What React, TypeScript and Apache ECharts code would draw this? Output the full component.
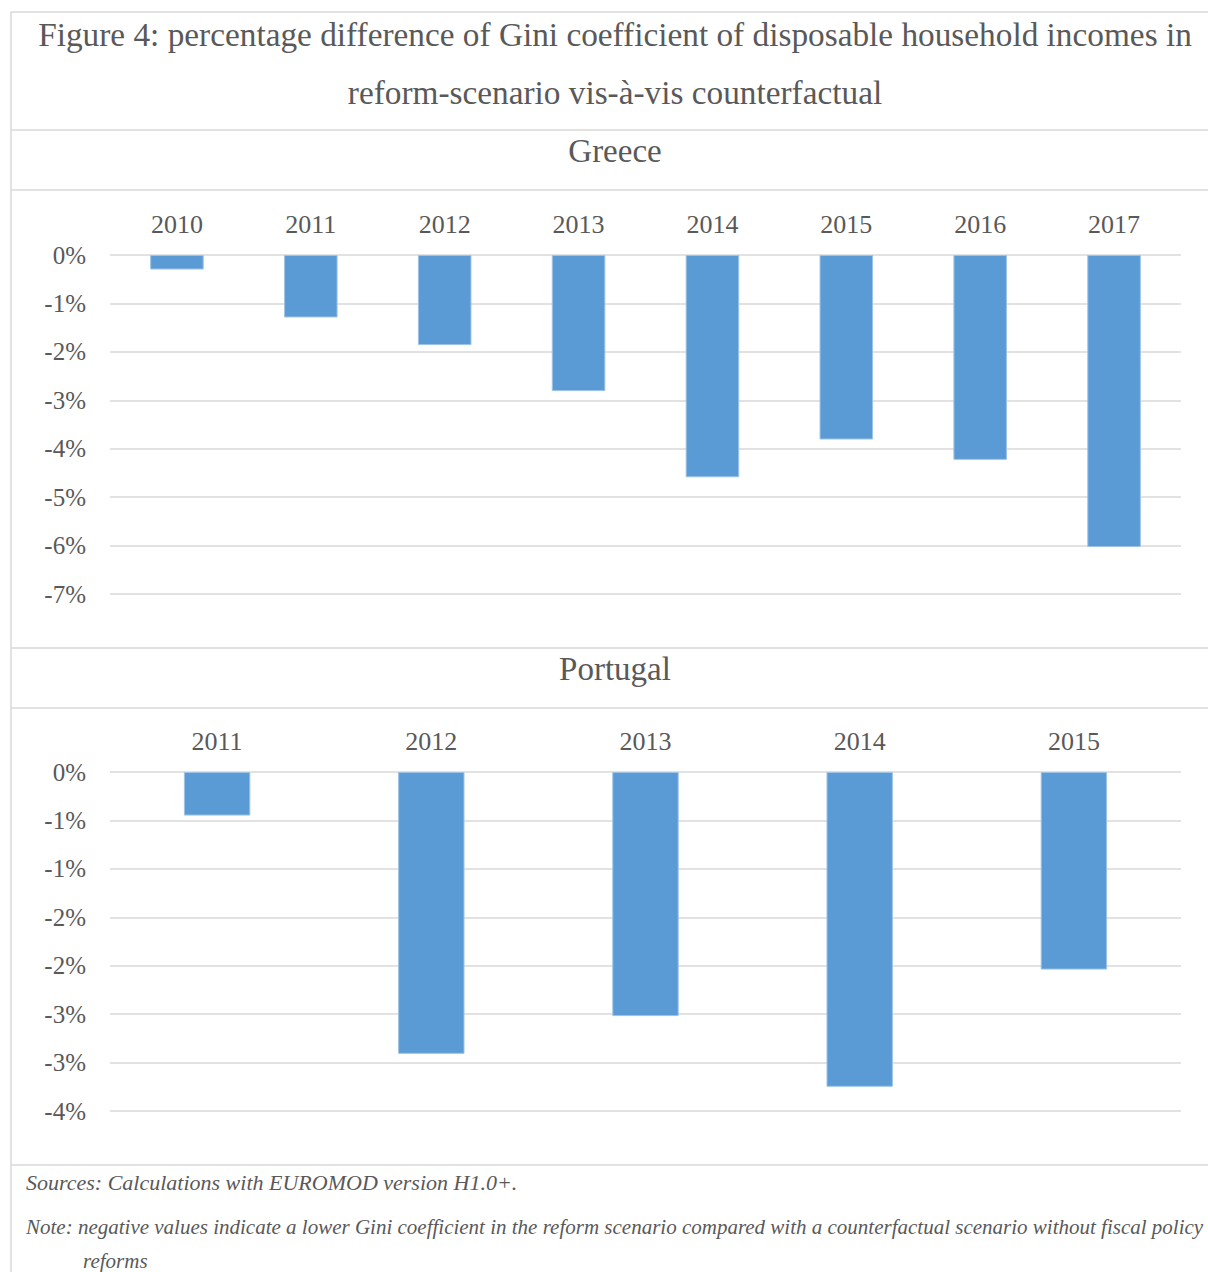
import React, { useEffect, useRef } from "react";
import * as echarts from "echarts";

const greeceYears = ["2010", "2011", "2012", "2013", "2014", "2015", "2016", "2017"];
const greeceValues = [-0.3, -1.29, -1.86, -2.81, -4.59, -3.81, -4.23, -6.03];

const portugalYears = ["2011", "2012", "2013", "2014", "2015"];
const portugalValues = [-0.45, -2.91, -2.52, -3.25, -2.04];
// Excel shows 0.5-step ticks rounded to whole percents
const portugalTickLabels = ["0%", "-1%", "-1%", "-2%", "-2%", "-3%", "-3%", "-4%"];

const titleLine1 = "Figure 4: percentage difference of Gini coefficient of disposable household incomes in";
const titleLine2 = "reform-scenario vis-à-vis counterfactual";
const sourcesText = "Sources: Calculations with EUROMOD version H1.0+.";
const noteLine1 =
  "Note: negative values indicate a lower Gini coefficient in the reform scenario compared with a counterfactual scenario without fiscal policy";
const noteLine2 = "reforms";

const FONT = "'Liberation Serif', 'Times New Roman', serif";
const TEXT = "#595959";
const BORDER = "#d9d9d9";
const BAR = "#5b9bd5";

export default function App() {
  const ref = useRef<HTMLDivElement>(null);
  useEffect(() => {
    if (!ref.current) return;
    const chart = echarts.init(ref.current, null, { renderer: "svg" });
    const hLine = (y: number, x1: number) => ({
      type: "line",
      shape: { x1, y1: y, x2: 1208, y2: y },
      style: { stroke: BORDER, lineWidth: 1.5 },
      silent: true,
    });
    const text = (t: string, x: number, y: number, size: number, align: string, italic = false) => ({
      type: "text",
      x,
      y,
      style: {
        text: t,
        fill: TEXT,
        font: `${italic ? "italic " : ""}${size}px ${FONT}`,
        textAlign: align,
        textVerticalAlign: "middle",
      },
      silent: true,
    });
    const xLabel = { color: TEXT, fontSize: 26, fontFamily: FONT };
    const yLabel = { color: TEXT, fontSize: 25, fontFamily: FONT };
    chart.setOption({
      animation: false,
      backgroundColor: "#ffffff",
      grid: [
        { left: 110, right: 27, top: 255, height: 339 },
        { left: 110, right: 27, top: 772, height: 339 },
      ],
      xAxis: [
        {
          type: "category",
          gridIndex: 0,
          position: "top",
          data: greeceYears,
          axisLine: { show: false },
          axisTick: { show: false },
          axisLabel: { ...xLabel, margin: 18 },
        },
        {
          type: "category",
          gridIndex: 1,
          position: "top",
          data: portugalYears,
          axisLine: { show: false },
          axisTick: { show: false },
          axisLabel: { ...xLabel, margin: 18 },
        },
      ],
      yAxis: [
        {
          type: "value",
          gridIndex: 0,
          min: -7,
          max: 0,
          interval: 1,
          axisLine: { show: false },
          axisTick: { show: false },
          splitLine: { lineStyle: { color: BORDER, width: 1.5 } },
          axisLabel: {
            ...yLabel,
            margin: 24,
            formatter: (v: number) => `${Math.round(v) === 0 ? 0 : Math.round(v)}%`,
          },
        },
        {
          type: "value",
          gridIndex: 1,
          min: -3.5,
          max: 0,
          interval: 0.5,
          axisLine: { show: false },
          axisTick: { show: false },
          splitLine: { lineStyle: { color: BORDER, width: 1.5 } },
          axisLabel: {
            ...yLabel,
            margin: 24,
            formatter: (v: number) => portugalTickLabels[Math.round(-v / 0.5)] ?? "",
          },
        },
      ],
      series: [
        {
          type: "bar",
          xAxisIndex: 0,
          yAxisIndex: 0,
          data: greeceValues,
          barWidth: "40%",
          itemStyle: { color: BAR, borderColor: "#9dc3e6", borderWidth: 1 },
        },
        {
          type: "bar",
          xAxisIndex: 1,
          yAxisIndex: 1,
          data: portugalValues,
          barWidth: "31%",
          itemStyle: { color: BAR, borderColor: "#9dc3e6", borderWidth: 1 },
        },
      ],
      graphic: [
        {
          type: "line",
          shape: { x1: 11, y1: 12, x2: 11, y2: 1272 },
          style: { stroke: BORDER, lineWidth: 1.5 },
          silent: true,
        },
        hLine(12, 11),
        hLine(130, 11),
        hLine(190, 11),
        hLine(648, 11),
        hLine(708, 11),
        hLine(1165, 11),
        text(titleLine1, 615, 34, 33.3, "center"),
        text(titleLine2, 615, 92, 33.3, "center"),
        text("Greece", 615, 151, 33, "center"),
        text("Portugal", 615, 669, 33, "center"),
        text(sourcesText, 26, 1182, 22, "left", true),
        text(noteLine1, 26, 1227, 21, "left", true),
        text(noteLine2, 83, 1261, 21, "left", true),
      ],
    });
    return () => chart.dispose();
  }, []);
  return (
    <div
      ref={ref}
      style={{ position: "fixed", left: 0, top: 0, width: 1208, height: 1272, background: "#fff" }}
    />
  );
}
